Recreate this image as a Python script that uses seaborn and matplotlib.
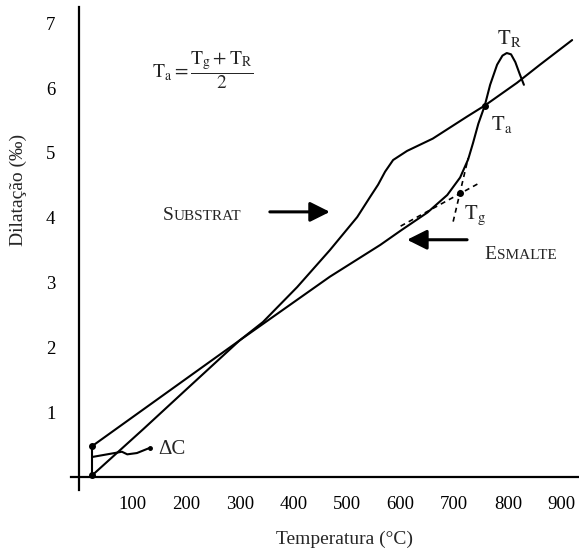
import matplotlib
matplotlib.use("Agg")
import matplotlib.pyplot as plt
import seaborn as sns
import pandas as pd

# ---------------- data ----------------
substrate_T = [25, 120, 200, 300, 343, 407, 468, 519, 543, 558, 571, 586, 612, 660, 724, 757, 817, 860, 920]
substrate_D = [0.03, 0.74, 1.35, 2.11, 2.39, 2.93, 3.50, 4.01, 4.32, 4.51, 4.71, 4.89, 5.03, 5.22, 5.56, 5.73, 6.08, 6.36, 6.74]

enamel_T = [25, 300, 468, 562, 600, 650, 687, 711, 726, 735, 745, 757, 767, 780, 790, 798, 806, 814, 822, 830]
enamel_D = [0.48, 2.11, 3.09, 3.58, 3.80, 4.08, 4.35, 4.62, 4.90, 5.15, 5.45, 5.73, 6.05, 6.36, 6.50, 6.54, 6.52, 6.40, 6.22, 6.05]

start_T = [25, 25]
start_D = [0.03, 0.48]

dC_T = [25, 80, 90, 108, 132]
dC_D = [0.31, 0.39, 0.35, 0.37, 0.45]

tangent1_T = [600, 748]
tangent1_D = [3.87, 4.54]
tangent2_T = [698, 726]
tangent2_D = [3.94, 4.92]

Tg_point = (711, 4.38)
Ta_point = (757, 5.73)

x_ticks = [100, 200, 300, 400, 500, 600, 700, 800, 900]
y_ticks = [1, 2, 3, 4, 5, 6, 7]

# ---------------- style ----------------
sns.set_style("white")
plt.rcParams["font.family"] = ["Liberation Serif", "DejaVu Serif"]
plt.rcParams["mathtext.fontset"] = "stix"

W, H = 579, 554
fig = plt.figure(figsize=(W / 100, H / 100), dpi=100)
ax = fig.add_axes([71 / W, (H - 490) / H, 506.5 / W, 483 / H])

LW = 1.5
df_s = pd.DataFrame({"T": substrate_T, "D": substrate_D})
df_e = pd.DataFrame({"T": enamel_T, "D": enamel_D})
sns.lineplot(data=df_s, x="T", y="D", sort=False, estimator=None, color="black", lw=LW, ax=ax)
sns.lineplot(data=df_e, x="T", y="D", sort=False, estimator=None, color="black", lw=LW, ax=ax)
sns.lineplot(x=start_T, y=start_D, sort=False, estimator=None, color="black", lw=LW, ax=ax)
sns.lineplot(x=dC_T, y=dC_D, sort=False, estimator=None, color="black", lw=LW, ax=ax)
ax.plot(start_T, start_D, "o", color="black", ms=4)
ax.plot([dC_T[-1]], [dC_D[-1]], "o", color="black", ms=2.5)

ax.plot(tangent1_T, tangent1_D, color="black", lw=1.2, ls=(0, (3, 2.5)))
ax.plot(tangent2_T, tangent2_D, color="black", lw=1.2, ls=(0, (3, 2.5)))
ax.plot([Tg_point[0]], [Tg_point[1]], "o", color="black", ms=4)
ax.plot([Ta_point[0]], [Ta_point[1]], "o", color="black", ms=4)

ax.set_xlim(-15, 930)
ax.set_ylim(-0.2, 7.25)

for s in ["top", "right"]:
    ax.spines[s].set_visible(False)
ax.spines["left"].set_position(("data", 0))
ax.spines["bottom"].set_position(("data", 0))
for s in ["left", "bottom"]:
    ax.spines[s].set_linewidth(1.6)
    ax.spines[s].set_color("black")

ax.set_xticks(x_ticks)
ax.set_yticks(y_ticks)
ax.set_xticklabels([str(v) for v in x_ticks])
ax.set_yticklabels([str(v) for v in y_ticks])
ax.tick_params(axis="both", direction="inout", length=13, width=1.5, color="black",
               labelsize=13.5, labelcolor="black")
ax.tick_params(axis="x", pad=7)
ax.tick_params(axis="y", pad=10.5)

ax.set_xlabel("Temperatura (°C)", fontsize=14)
ax.xaxis.set_label_coords(344 / W, 1 - 531 / H, transform=fig.transFigure)
ax.set_ylabel("Dilatação (‰)", fontsize=14)
ax.yaxis.set_label_coords(27 / W, 1 - 190 / H, transform=fig.transFigure)

# formula
ax.text(231, 6.28, r"$\mathrm{T_a} = \dfrac{\mathrm{T_g} + \mathrm{T_R}}{2}$",
        ha="center", va="center", fontsize=14)

# labels near the curves
ax.text(802, 6.76, r"$\mathrm{T_R}$", ha="center", va="center", fontsize=15)
ax.text(789, 5.43, r"$\mathrm{T_a}$", ha="center", va="center", fontsize=15)
ax.text(739, 4.04, r"$\mathrm{T_g}$", ha="center", va="center", fontsize=15)
ax.text(173, 0.43, "ΔC", ha="center", va="center", fontsize=15)

# small-caps labels
t1 = ax.text(157, 3.97, "S", ha="left", va="baseline", fontsize=14)
ax.annotate("UBSTRAT", xy=(1, 3.97), xycoords=(t1, "data"), ha="left", va="baseline", fontsize=11)
t2 = ax.text(757, 3.36, "E", ha="left", va="baseline", fontsize=14)
ax.annotate("SMALTE", xy=(1, 3.36), xycoords=(t2, "data"), ha="left", va="baseline", fontsize=11)

arrow = dict(arrowstyle="-|>,head_length=0.6,head_width=0.3", lw=2.2, color="black",
             shrinkA=0, shrinkB=0, mutation_scale=20)
ax.annotate("", xy=(468, 4.09), xytext=(356, 4.09), arrowprops=arrow)
ax.annotate("", xy=(612, 3.66), xytext=(724, 3.66), arrowprops=arrow)

fig.savefig("out.png", dpi=100)
